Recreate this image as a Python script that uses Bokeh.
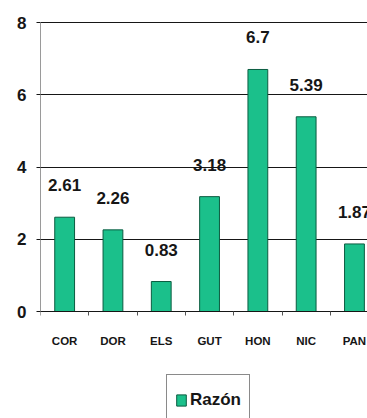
from bokeh.plotting import figure
from bokeh.models import (ColumnDataSource, Range1d, FixedTicker, Legend, LegendItem)
from bokeh.core.properties import value
from bokeh.embed import file_html
from bokeh.resources import INLINE

# Razón por país
countries = ["COR", "DOR", "ELS", "GUT", "HON", "NIC", "PAN"]
ratios = [2.61, 2.26, 0.83, 3.18, 6.7, 5.39, 1.87]
labels = ["2.61", "2.26", "0.83", "3.18", "6.7", "5.39", "1.87"]
y_ticks = [0, 2, 4, 6, 8]

FONT = "Liberation Sans"
BAR = "#1BC08B"
INK = "#161616"

xs = list(range(len(countries)))
src = ColumnDataSource(dict(x=xs, ratio=ratios, label=labels, country=countries))

# the frame runs down to the bottom edge so the legend sits inside it;
# the category axis is pinned at y = 0
p = figure(width=367, height=418,
           x_range=Range1d(-0.5, 6.27), y_range=Range1d(-2.962, 8.028),
           output_backend="svg", toolbar_location=None,
           min_border_left=40, min_border_right=0,
           min_border_top=21, min_border_bottom=0)
p.outline_line_color = None
p.background_fill_color = "white"
p.border_fill_color = "white"

bars = p.vbar(x="x", top="ratio", bottom=0, width=0.41, source=src,
              fill_color=BAR, line_color="#0B5C40", line_width=1)

p.text(x="x", y="ratio", text="label", source=src,
       text_align="center", text_baseline="middle", y_offset=-32,
       text_font=value(FONT), text_font_style="bold",
       text_font_size="17px", text_color=INK)

# x axis: category names under the bars, tick marks between them
xa = p.xaxis[0]
xa.fixed_location = 0
xa.ticker = FixedTicker(ticks=xs, minor_ticks=[i - 0.5 for i in range(len(countries) + 1)])
xa.major_label_overrides = {i: c for i, c in enumerate(countries)}
xa.major_tick_out = 0
xa.major_tick_in = 0
xa.minor_tick_out = 4
xa.minor_tick_in = 0
xa.minor_tick_line_color = "#555555"
xa.axis_line_color = INK
xa.major_label_standoff = 19
xa.major_label_text_font = FONT
xa.major_label_text_font_style = "bold"
xa.major_label_text_font_size = "11.5px"
xa.major_label_text_color = INK

# y axis
ya = p.yaxis[0]
ya.bounds = (0, 8)
ya.ticker = FixedTicker(ticks=y_ticks, minor_ticks=[])
ya.axis_line_color = "#9a9a9a"
ya.major_tick_out = 4
ya.major_tick_in = 0
ya.major_tick_line_color = INK
ya.major_label_standoff = 10
ya.major_label_text_font = FONT
ya.major_label_text_font_style = "bold"
ya.major_label_text_font_size = "17px"
ya.major_label_text_color = INK

p.xgrid.visible = False
p.ygrid.ticker = FixedTicker(ticks=y_ticks)
p.ygrid.grid_line_color = INK
p.ygrid.grid_line_width = 1

legend = Legend(items=[LegendItem(label="Razón", renderers=[bars])],
                location=(126, -8), orientation="vertical",
                border_line_color=INK, border_line_width=1,
                padding=8, margin=0, spacing=0,
                glyph_width=12, glyph_height=14, label_standoff=3,
                label_height=34,
                label_text_font=FONT, label_text_font_style="bold",
                label_text_font_size="17px", label_text_color=INK,
                background_fill_color="white", background_fill_alpha=1.0)
p.add_layout(legend, "center")

open("out.html", "w").write(file_html(p, INLINE))
